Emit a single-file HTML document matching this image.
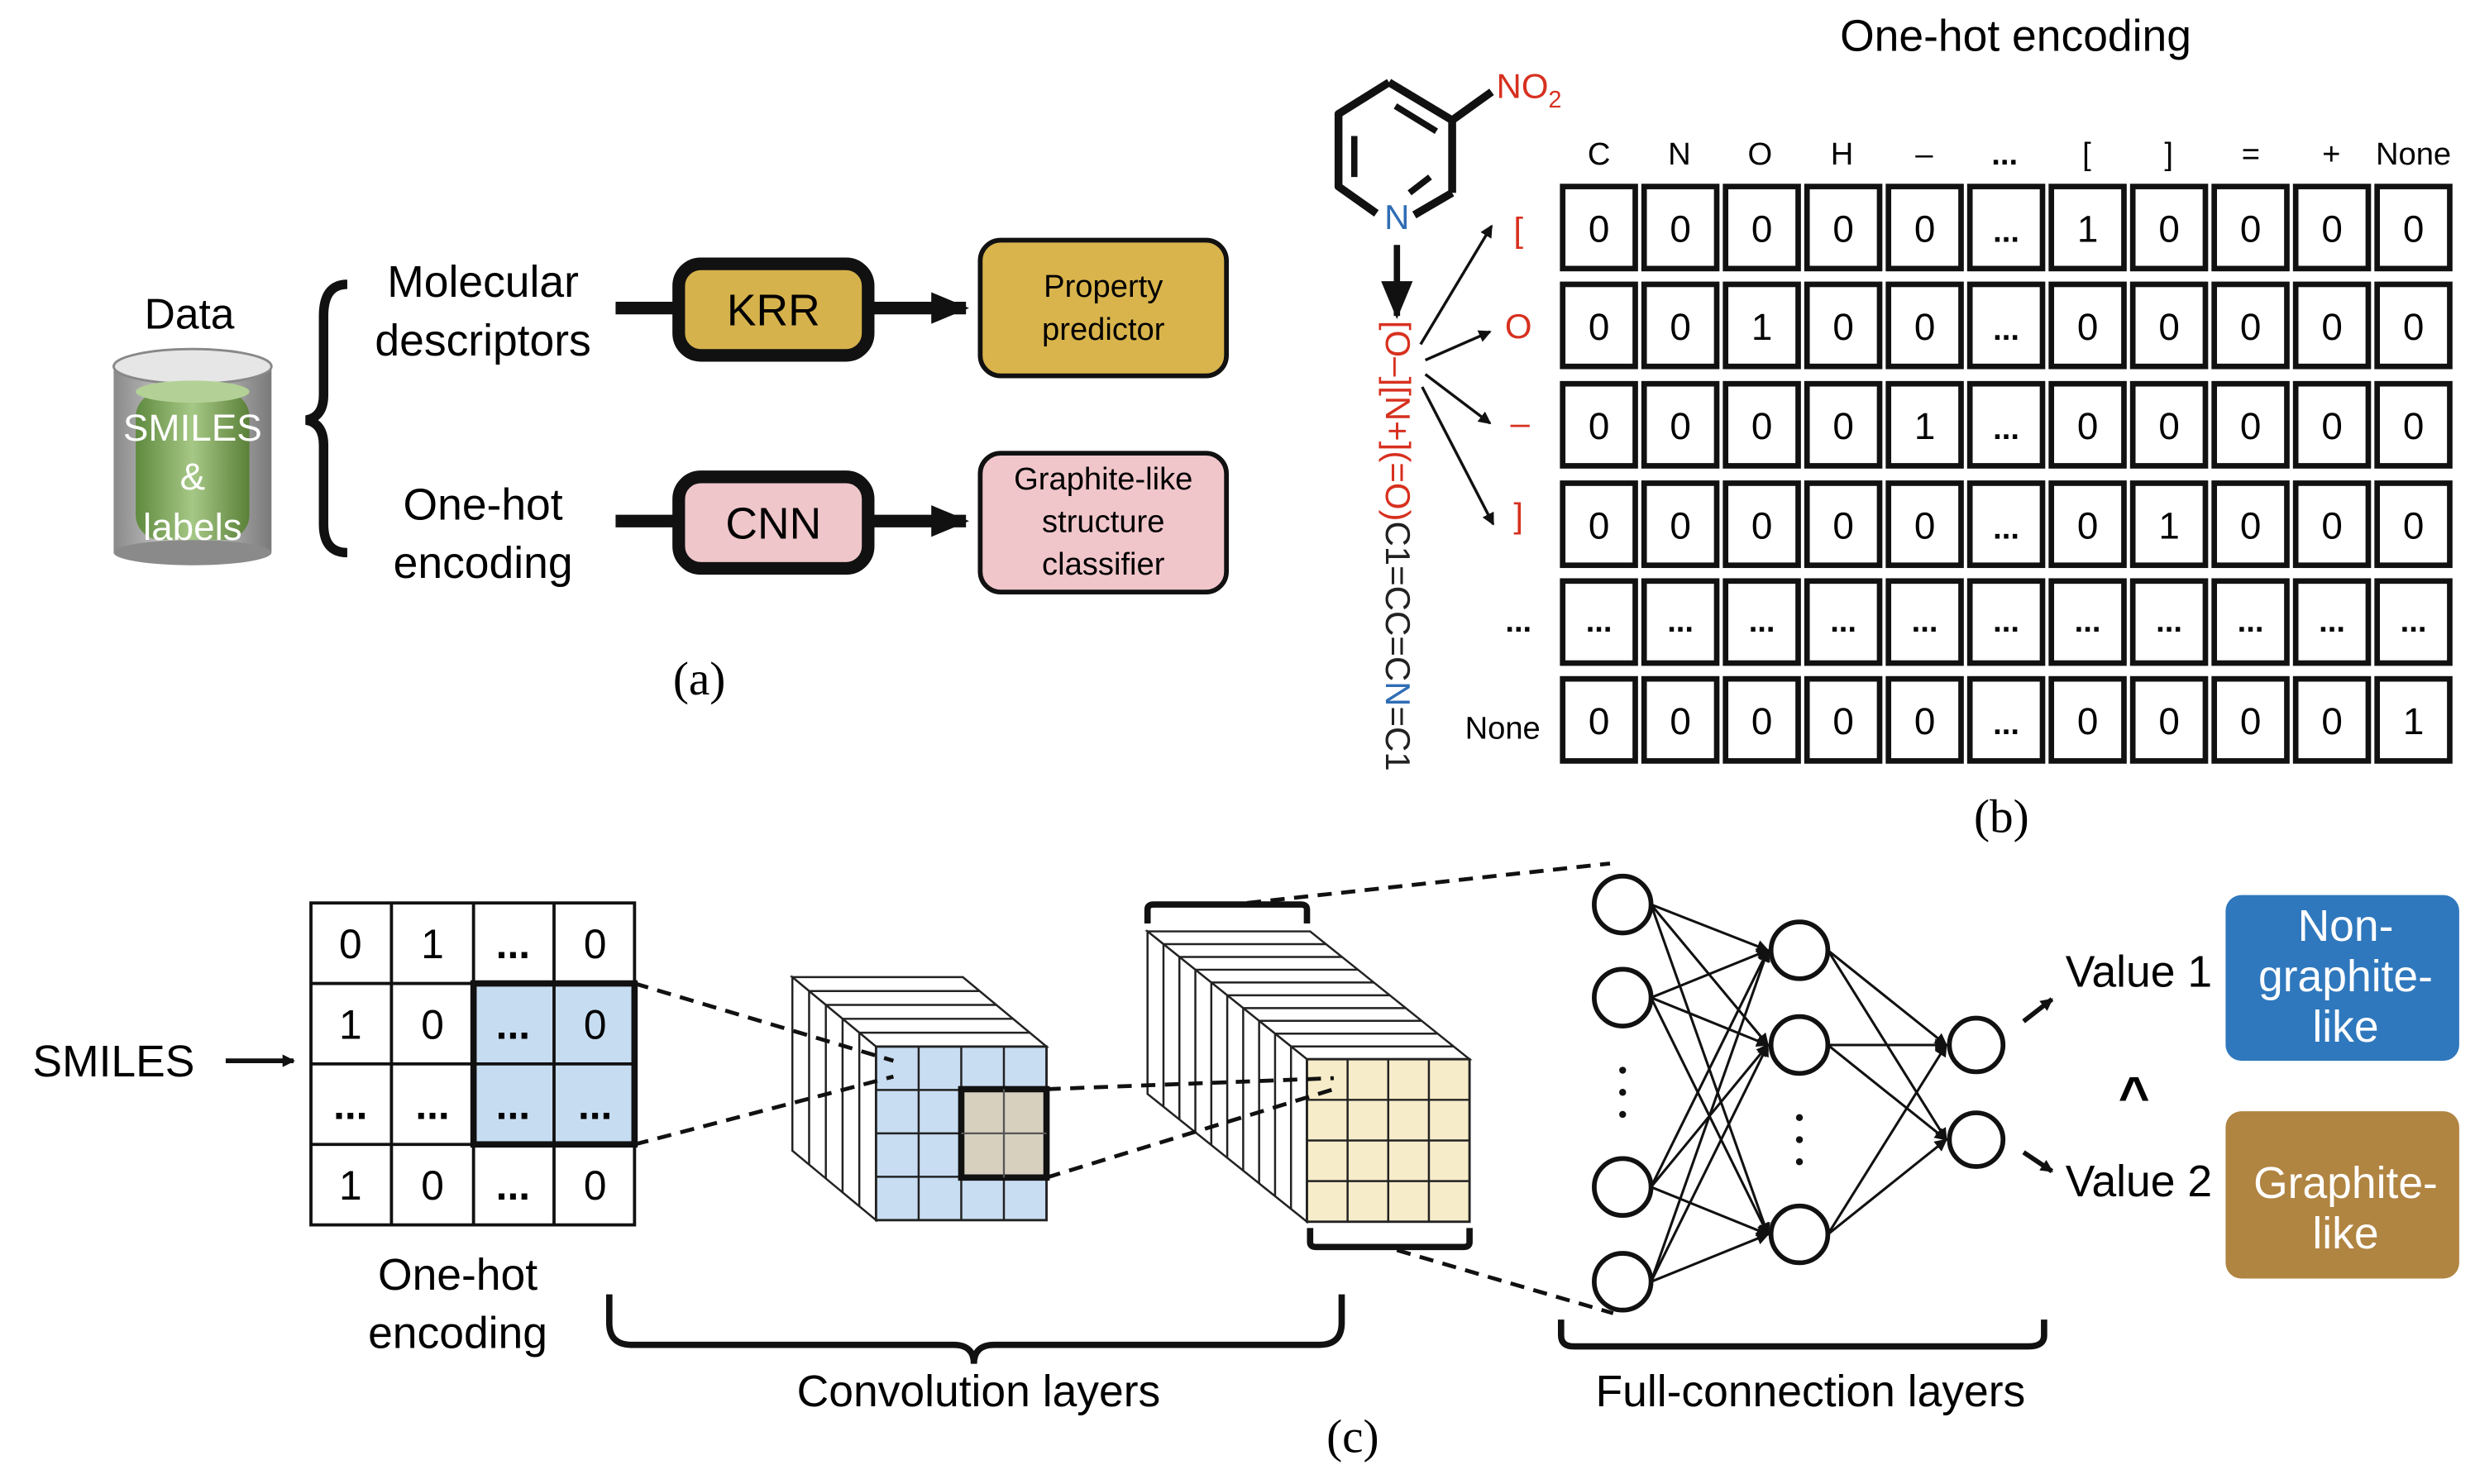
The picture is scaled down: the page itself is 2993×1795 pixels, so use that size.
<!DOCTYPE html>
<html><head><meta charset="utf-8"><style>
html,body{margin:0;padding:0;background:#fff;}
svg{display:block;}
text{font-family:"Liberation Sans",sans-serif;}
.t{font-family:"Liberation Serif",serif;}
</style></head><body>
<svg width="2993" height="1795" viewBox="0 0 1568 940" xmlns="http://www.w3.org/2000/svg">
<defs>
<marker id="ah" markerWidth="8" markerHeight="8" refX="7" refY="4" orient="auto" markerUnits="userSpaceOnUse"><path d="M0,0 L8,4 L0,8 z" fill="#111"/></marker>
<marker id="ahb" markerWidth="24" markerHeight="20" refX="22" refY="10" orient="auto" markerUnits="userSpaceOnUse"><path d="M0,0 L24,10 L0,20 z" fill="#111"/></marker>
<linearGradient id="cyl" x1="0" x2="1"><stop offset="0" stop-color="#8a8a8a"/><stop offset="0.45" stop-color="#d8d8d8"/><stop offset="1" stop-color="#7a7a7a"/></linearGradient>
<linearGradient id="grn" x1="0" x2="1"><stop offset="0" stop-color="#5f8a3e"/><stop offset="0.5" stop-color="#a6c886"/><stop offset="1" stop-color="#5a8038"/></linearGradient>
<g id="row" stroke="#111" stroke-width="3.5" fill="#fff">
<rect x="990" y="0" width="46" height="52"/><rect x="1041.6" y="0" width="46" height="52"/><rect x="1093.2" y="0" width="46" height="52"/><rect x="1144.8" y="0" width="46" height="52"/><rect x="1196.4" y="0" width="46" height="52"/><rect x="1248" y="0" width="46" height="52"/><rect x="1299.6" y="0" width="46" height="52"/><rect x="1351.2" y="0" width="46" height="52"/><rect x="1402.8" y="0" width="46" height="52"/><rect x="1454.4" y="0" width="46" height="52"/><rect x="1506" y="0" width="46" height="52"/>
</g>
</defs>

<!-- Panel (a) -->
<text x="120" y="208" font-size="27" text-anchor="middle">Data</text>
<rect x="72" y="232" width="100" height="118" fill="url(#cyl)"/>
<ellipse cx="122" cy="350" rx="50" ry="8" fill="#8a8a8a"/>
<ellipse cx="122" cy="232" rx="50" ry="11" fill="#e6e6e6" stroke="#888" stroke-width="1.5"/>
<rect x="86" y="248" width="72" height="94" rx="16" fill="url(#grn)"/>
<ellipse cx="122" cy="248" rx="36" ry="7" fill="#b3d196"/>
<text x="122" y="279" font-size="24" fill="#fff" text-anchor="middle">SMILES</text>
<text x="122" y="310" font-size="24" fill="#fff" text-anchor="middle">&amp;</text>
<text x="122" y="342" font-size="24" fill="#fff" text-anchor="middle">labels</text>
<path d="M220,180 Q205,180 205,200 L205,250 Q205,264 194,266 Q205,268 205,282 L205,332 Q205,350 220,350" fill="none" stroke="#111" stroke-width="6"/>
<text x="306" y="188" font-size="28" text-anchor="middle">Molecular</text>
<text x="306" y="225" font-size="28" text-anchor="middle">descriptors</text>
<text x="306" y="329" font-size="28" text-anchor="middle">One-hot</text>
<text x="306" y="366" font-size="28" text-anchor="middle">encoding</text>
<line x1="390" y1="195" x2="430" y2="195" stroke="#111" stroke-width="8"/>
<rect x="430" y="167" width="120" height="58" rx="14" fill="#d6b24c" stroke="#111" stroke-width="8"/>
<text x="490" y="206" font-size="28" text-anchor="middle">KRR</text>
<line x1="550" y1="195" x2="612" y2="195" stroke="#111" stroke-width="8" marker-end="url(#ahb)"/>
<rect x="621" y="152" width="156" height="86" rx="13" fill="#d9b44c" stroke="#111" stroke-width="3"/>
<text x="699" y="188" font-size="20" text-anchor="middle">Property</text>
<text x="699" y="215" font-size="20" text-anchor="middle">predictor</text>
<line x1="390" y1="330" x2="430" y2="330" stroke="#111" stroke-width="8"/>
<rect x="430" y="302" width="120" height="58" rx="14" fill="#efc6ca" stroke="#111" stroke-width="8"/>
<text x="490" y="341" font-size="28" text-anchor="middle">CNN</text>
<line x1="550" y1="330" x2="612" y2="330" stroke="#111" stroke-width="8" marker-end="url(#ahb)"/>
<rect x="621" y="287" width="156" height="88" rx="13" fill="#f0c6cb" stroke="#111" stroke-width="3"/>
<text x="699" y="310" font-size="20" text-anchor="middle">Graphite-like</text>
<text x="699" y="337" font-size="20" text-anchor="middle">structure</text>
<text x="699" y="364" font-size="20" text-anchor="middle">classifier</text>
<text x="443" y="440" font-size="30" class="t" text-anchor="middle">(a)</text>

<!-- Panel (b) -->
<text x="1277" y="32" font-size="28" text-anchor="middle">One-hot encoding</text>
<g stroke="#111" stroke-width="5" fill="none" stroke-linejoin="round">
<path d="M880,52 L920,76 L920,122 M872,135 L848,118 L848,72 L880,52"/>
<line x1="920" y1="76" x2="945" y2="58"/>
<line x1="858" y1="86" x2="858" y2="112" stroke-width="4"/>
<line x1="884" y1="67" x2="910" y2="83" stroke-width="4"/>
<line x1="920" y1="122" x2="896" y2="136"/>
<line x1="906" y1="112" x2="893" y2="122" stroke-width="4"/>
</g>
<text x="948" y="62" font-size="22" fill="#d7301f">NO<tspan font-size="15" dy="6">2</tspan></text>
<text x="885" y="145" font-size="22" fill="#2f6db4" text-anchor="middle">N</text>
<line x1="885" y1="155" x2="885" y2="200" stroke="#111" stroke-width="4" marker-end="url(#ahb)"/>
<text transform="translate(878,203) rotate(90)" font-size="22"><tspan fill="#d7301f">[O–][N+](=O)</tspan><tspan fill="#222">C1=CC=C</tspan><tspan fill="#2f6db4">N</tspan><tspan fill="#222">=C1</tspan></text>
<g stroke="#111" stroke-width="1.8" marker-end="url(#ah)">
<line x1="900" y1="218" x2="945" y2="143"/>
<line x1="903" y1="228" x2="944" y2="210"/>
<line x1="903" y1="237" x2="944" y2="268"/>
<line x1="901" y1="245" x2="946" y2="332"/>
</g>
<g font-size="22" fill="#d7301f" text-anchor="middle">
<text x="962" y="153">[</text><text x="962" y="214">O</text><text x="963" y="275">–</text><text x="962" y="334">]</text>
</g>
<text x="962" y="400" font-size="20" font-weight="bold" text-anchor="middle">...</text>
<text x="952" y="468" font-size="20" text-anchor="middle">None</text>
<g font-size="20" text-anchor="middle">
<text x="1013" y="104">C</text><text x="1064" y="104">N</text><text x="1115" y="104">O</text><text x="1167" y="104">H</text><text x="1219" y="104">–</text><text x="1270" y="104" font-weight="bold">...</text><text x="1322" y="104">[</text><text x="1374" y="104">]</text><text x="1426" y="104">=</text><text x="1477" y="104">+</text><text x="1529" y="104">None</text>
</g>
<use href="#row" y="118"/><use href="#row" y="180"/><use href="#row" y="243"/><use href="#row" y="306"/><use href="#row" y="368"/><use href="#row" y="430"/>
<g font-size="24" text-anchor="middle">
<text x="1013" y="153">0</text><text x="1064.6" y="153">0</text><text x="1116.2" y="153">0</text><text x="1167.8" y="153">0</text><text x="1219.4" y="153">0</text><text x="1271" y="153" font-size="20" font-weight="bold">...</text><text x="1322.6" y="153">1</text><text x="1374.2" y="153">0</text><text x="1425.8" y="153">0</text><text x="1477.4" y="153">0</text><text x="1529" y="153">0</text>
<text x="1013" y="215">0</text><text x="1064.6" y="215">0</text><text x="1116.2" y="215">1</text><text x="1167.8" y="215">0</text><text x="1219.4" y="215">0</text><text x="1271" y="215" font-size="20" font-weight="bold">...</text><text x="1322.6" y="215">0</text><text x="1374.2" y="215">0</text><text x="1425.8" y="215">0</text><text x="1477.4" y="215">0</text><text x="1529" y="215">0</text>
<text x="1013" y="278">0</text><text x="1064.6" y="278">0</text><text x="1116.2" y="278">0</text><text x="1167.8" y="278">0</text><text x="1219.4" y="278">1</text><text x="1271" y="278" font-size="20" font-weight="bold">...</text><text x="1322.6" y="278">0</text><text x="1374.2" y="278">0</text><text x="1425.8" y="278">0</text><text x="1477.4" y="278">0</text><text x="1529" y="278">0</text>
<text x="1013" y="341">0</text><text x="1064.6" y="341">0</text><text x="1116.2" y="341">0</text><text x="1167.8" y="341">0</text><text x="1219.4" y="341">0</text><text x="1271" y="341" font-size="20" font-weight="bold">...</text><text x="1322.6" y="341">0</text><text x="1374.2" y="341">1</text><text x="1425.8" y="341">0</text><text x="1477.4" y="341">0</text><text x="1529" y="341">0</text>
</g>
<g font-size="20" font-weight="bold" text-anchor="middle">
<text x="1013" y="400">...</text><text x="1064.6" y="400">...</text><text x="1116.2" y="400">...</text><text x="1167.8" y="400">...</text><text x="1219.4" y="400">...</text><text x="1271" y="400">...</text><text x="1322.6" y="400">...</text><text x="1374.2" y="400">...</text><text x="1425.8" y="400">...</text><text x="1477.4" y="400">...</text><text x="1529" y="400">...</text>
</g>
<g font-size="24" text-anchor="middle">
<text x="1013" y="465">0</text><text x="1064.6" y="465">0</text><text x="1116.2" y="465">0</text><text x="1167.8" y="465">0</text><text x="1219.4" y="465">0</text><text x="1271" y="465" font-size="20" font-weight="bold">...</text><text x="1322.6" y="465">0</text><text x="1374.2" y="465">0</text><text x="1425.8" y="465">0</text><text x="1477.4" y="465">0</text><text x="1529" y="465">1</text>
</g>
<text x="1268" y="527" font-size="30" class="t" text-anchor="middle">(b)</text>

<!-- Panel (c) -->
<text x="72" y="682" font-size="28" text-anchor="middle">SMILES</text>
<line x1="143" y1="672" x2="186" y2="672" stroke="#111" stroke-width="3" marker-end="url(#ah)"/>
<rect x="300" y="623" width="102" height="102" fill="#c6dcf1"/>
<g stroke="#111" stroke-width="2" fill="none">
<rect x="197" y="572" width="205" height="204"/>
<line x1="248" y1="572" x2="248" y2="776"/><line x1="300" y1="572" x2="300" y2="776"/><line x1="351" y1="572" x2="351" y2="776"/>
<line x1="197" y1="623" x2="402" y2="623"/><line x1="197" y1="674" x2="402" y2="674"/><line x1="197" y1="725" x2="402" y2="725"/>
</g>
<rect x="300" y="623" width="102" height="102" fill="none" stroke="#111" stroke-width="4"/>
<g font-size="26" text-anchor="middle">
<text x="222" y="607">0</text><text x="274" y="607">1</text><text x="325" y="607" font-weight="bold">...</text><text x="377" y="607">0</text>
<text x="222" y="658">1</text><text x="274" y="658">0</text><text x="325" y="658" font-weight="bold">...</text><text x="377" y="658">0</text>
<text x="222" y="709" font-weight="bold">...</text><text x="274" y="709" font-weight="bold">...</text><text x="325" y="709" font-weight="bold">...</text><text x="377" y="709" font-weight="bold">...</text>
<text x="222" y="760">1</text><text x="274" y="760">0</text><text x="325" y="760" font-weight="bold">...</text><text x="377" y="760">0</text>
</g>
<text x="290" y="817" font-size="28" text-anchor="middle">One-hot</text>
<text x="290" y="854" font-size="28" text-anchor="middle">encoding</text>

<!-- cube 1 -->
<g stroke="#222" stroke-width="1.3">
<polygon points="502,619 610,619 663,663 555,663" fill="#fff"/>
<polygon points="502,619 555,663 555,773 502,729" fill="#fff"/>
<path fill="none" d="M512.6,627.8 h108 M523.2,636.6 h108 M533.8,645.4 h108 M544.4,654.2 h108 M512.6,627.8 v110 M523.2,636.6 v110 M533.8,645.4 v110 M544.4,654.2 v110"/>
<rect x="555" y="663" width="108" height="110" fill="#c8ddf2" stroke-width="1.5"/>
<path fill="none" d="M582,663 v110 M609,663 v110 M636,663 v110 M555,690.5 h108 M555,718 h108 M555,745.5 h108"/>
</g>
<rect x="609" y="690" width="54" height="56" fill="#d8d0bf" stroke="#111" stroke-width="4"/>
<path d="M636,690 v56 M609,718 h54" stroke="#555" stroke-width="1.2"/>

<!-- cube 2 -->
<g stroke="#222" stroke-width="1.3">
<polygon points="727,590 830,590 931,671 828,671" fill="#fff"/>
<polygon points="727,590 828,671 828,774 727,693" fill="#fff"/>
<path fill="none" d="M737.1,598.1 h103 M747.2,606.2 h103 M757.3,614.3 h103 M767.4,622.4 h103 M777.5,630.5 h103 M787.6,638.6 h103 M797.7,646.7 h103 M807.8,654.8 h103 M817.9,662.9 h103 M737.1,598.1 v103 M747.2,606.2 v103 M757.3,614.3 v103 M767.4,622.4 v103 M777.5,630.5 v103 M787.6,638.6 v103 M797.7,646.7 v103 M807.8,654.8 v103 M817.9,662.9 v103"/>
<rect x="828" y="671" width="103" height="103" fill="#f6ecc9" stroke-width="1.5"/>
<path fill="none" d="M853.75,671 v103 M879.5,671 v103 M905.25,671 v103 M828,696.75 h103 M828,722.5 h103 M828,748.25 h103"/>
</g>
<path d="M727,585 L727,576 Q727,573 731,573 L824,573 Q828,573 828,576 L828,585" fill="none" stroke="#111" stroke-width="4"/>
<path d="M830,778 L830,787 Q830,790 834,790 L927,790 Q931,790 931,787 L931,778" fill="none" stroke="#111" stroke-width="4"/>

<g stroke="#111" stroke-width="2.5" stroke-dasharray="9,6" fill="none">
<line x1="402" y1="623" x2="566" y2="672"/><line x1="402" y1="725" x2="566" y2="682"/>
<line x1="663" y1="690" x2="845" y2="683"/><line x1="663" y1="746" x2="845" y2="690"/>
<line x1="790" y1="572" x2="1020" y2="547"/><line x1="885" y1="792" x2="1022" y2="832"/>
</g>

<!-- neural net -->
<g stroke="#111" stroke-width="1.6" marker-end="url(#ah)">
<line x1="1046" y1="573" x2="1120" y2="602"/><line x1="1046" y1="573" x2="1120" y2="662"/><line x1="1046" y1="573" x2="1120" y2="782"/>
<line x1="1046" y1="632" x2="1120" y2="602"/><line x1="1046" y1="632" x2="1120" y2="662"/><line x1="1046" y1="632" x2="1120" y2="782"/>
<line x1="1046" y1="752" x2="1120" y2="602"/><line x1="1046" y1="752" x2="1120" y2="662"/><line x1="1046" y1="752" x2="1120" y2="782"/>
<line x1="1046" y1="812" x2="1120" y2="602"/><line x1="1046" y1="812" x2="1120" y2="662"/><line x1="1046" y1="812" x2="1120" y2="782"/>
<line x1="1158" y1="602" x2="1233" y2="662"/><line x1="1158" y1="602" x2="1233" y2="722"/>
<line x1="1158" y1="662" x2="1233" y2="662"/><line x1="1158" y1="662" x2="1233" y2="722"/>
<line x1="1158" y1="782" x2="1233" y2="662"/><line x1="1158" y1="782" x2="1233" y2="722"/>
</g>
<g fill="#fff" stroke="#111" stroke-width="3">
<circle cx="1028" cy="573" r="18"/><circle cx="1028" cy="632" r="18"/><circle cx="1028" cy="752" r="18"/><circle cx="1028" cy="812" r="18"/>
<circle cx="1140" cy="602" r="18"/><circle cx="1140" cy="662" r="18"/><circle cx="1140" cy="782" r="18"/>
<circle cx="1252" cy="662" r="17"/><circle cx="1252" cy="722" r="17"/>
</g>
<g fill="#111"><circle cx="1028" cy="678" r="2.2"/><circle cx="1028" cy="692" r="2.2"/><circle cx="1028" cy="706" r="2.2"/>
<circle cx="1140" cy="708" r="2.2"/><circle cx="1140" cy="722" r="2.2"/><circle cx="1140" cy="736" r="2.2"/></g>
<line x1="1282" y1="647" x2="1300" y2="633" stroke="#111" stroke-width="3" marker-end="url(#ah)"/>
<line x1="1282" y1="730" x2="1300" y2="742" stroke="#111" stroke-width="3" marker-end="url(#ah)"/>
<text x="1355" y="625" font-size="28" text-anchor="middle">Value 1</text>
<text x="1355" y="758" font-size="28" text-anchor="middle">Value 2</text>
<text x="1352" y="706" font-size="34" font-weight="bold" text-anchor="middle">^</text>
<rect x="1410" y="567" width="148" height="105" rx="10" fill="#2f78bd"/>
<text x="1486" y="596" font-size="28" fill="#fff" text-anchor="middle">Non-</text>
<text x="1486" y="628" font-size="28" fill="#fff" text-anchor="middle">graphite-</text>
<text x="1486" y="660" font-size="28" fill="#fff" text-anchor="middle">like</text>
<rect x="1410" y="704" width="148" height="106" rx="10" fill="#b08441"/>
<text x="1486" y="759" font-size="28" fill="#fff" text-anchor="middle">Graphite-</text>
<text x="1486" y="791" font-size="28" fill="#fff" text-anchor="middle">like</text>

<g stroke="#111" stroke-width="4" fill="none">
<path d="M386,820 L386,838 Q386,852 400,852 L604,852 Q617,852 617,864 Q617,852 630,852 L836,852 Q850,852 850,838 L850,820"/>
<path d="M989,836 L989,846 Q989,853 997,853 L1285,853 Q1295,853 1295,846 L1295,836"/>
</g>
<text x="620" y="891" font-size="28" text-anchor="middle">Convolution layers</text>
<text x="1147" y="891" font-size="28" text-anchor="middle">Full-connection layers</text>
<text x="857" y="920" font-size="30" class="t" text-anchor="middle">(c)</text>
</svg>
</body></html>
